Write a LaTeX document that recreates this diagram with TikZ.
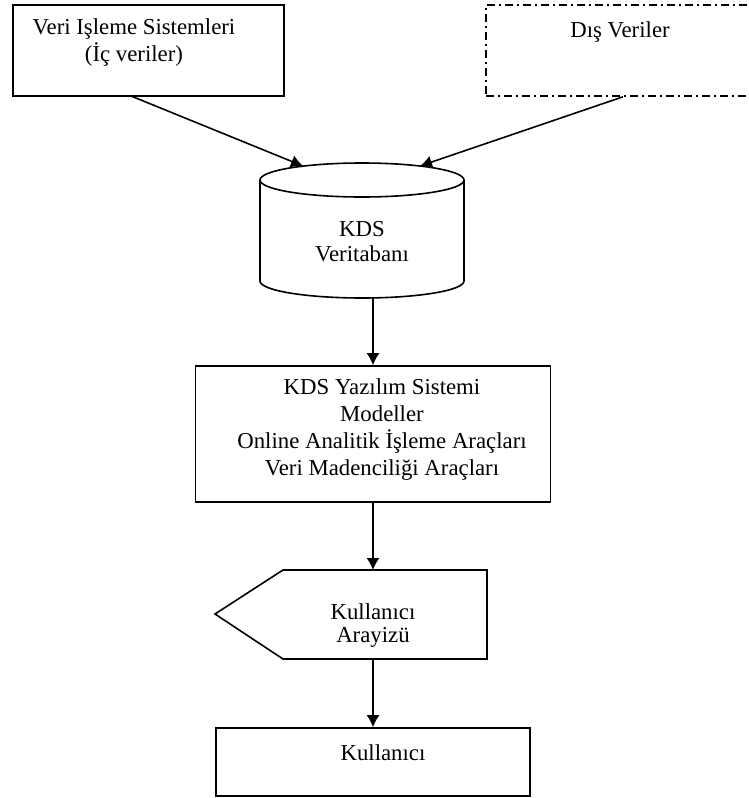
\documentclass[tikz,border=0pt]{standalone}
\usepackage{fontspec}
\setmainfont{Liberation Serif}
\usetikzlibrary{arrows.meta}

\begin{document}
\begin{tikzpicture}[x=0.5pt, y=-0.5pt, line width=0.8pt,
	>={Latex[length=6pt,width=6.5pt]},
	every node/.style={font=\fontsize{11.4}{13.5}\selectfont, align=center},
	box/.style={draw, inner sep=0pt}]
	\useasboundingbox (0,0) rectangle (749,798);

	\coordinate (tps out) at (131,96);
	\coordinate (db in1) at (303,166);
	\coordinate (db in2) at (420,166);
	\coordinate (db out) at (373,297);
	\coordinate (ui in) at (373,570);
	\coordinate (ui out) at (373,659);

	% kaynaklar
	\node (tps) [box, minimum width=135.5pt, minimum height=45.5pt] at (148.5,50.5) {};
	\node (tps text) at (134,43) {Veri Işleme Sistemleri\\(İç veriler)};

	\node (ext) [box, dash pattern=on 4pt off 2pt on 1pt off 2pt,
		minimum width=137pt, minimum height=45.5pt] at (623,50.5) {};
	\node (ext text) at (620,32) {Dış Veriler};

	% veritabani
	\draw (260,180) -- (260,281)
		arc [start angle=180, end angle=360, x radius=51pt, y radius=8.5pt]
		-- (464,180);
	\draw (362,180) ellipse [x radius=51pt, y radius=8.5pt];
	\node (db) [font=\fontsize{11.4}{12.5}\selectfont] at (362,242) {KDS\\Veritabanı};

	\node (kds) [box, minimum width=177.5pt, minimum height=68pt] at (373,434) {};
	\node (kds text) at (382,430)
		{KDS Yazılım Sistemi\\Modeller\\Online Analitik İşleme Araçları\\Veri Madenciliği Araçları};

	% arayuz
	\draw (283,570) -- (487,570) -- (487,659) -- (283,659) -- (215,614) -- cycle;
	\node (ui) [font=\fontsize{11.4}{11.5}\selectfont] at (373,626) {Kullanıcı\\Arayizü};

	\node (user) [box, minimum width=157pt, minimum height=34pt] at (373,762) {};
	\node (user text) at (383,753) {Kullanıcı};

	\draw [->] (tps out) -- (db in1);
	\draw [->] (ext.south) -- (db in2);
	\draw [->] (db out) -- (kds.north);
	\draw [->] (kds.south) -- (ui in);
	\draw [->] (ui out) -- (user.north);
\end{tikzpicture}
\end{document}
